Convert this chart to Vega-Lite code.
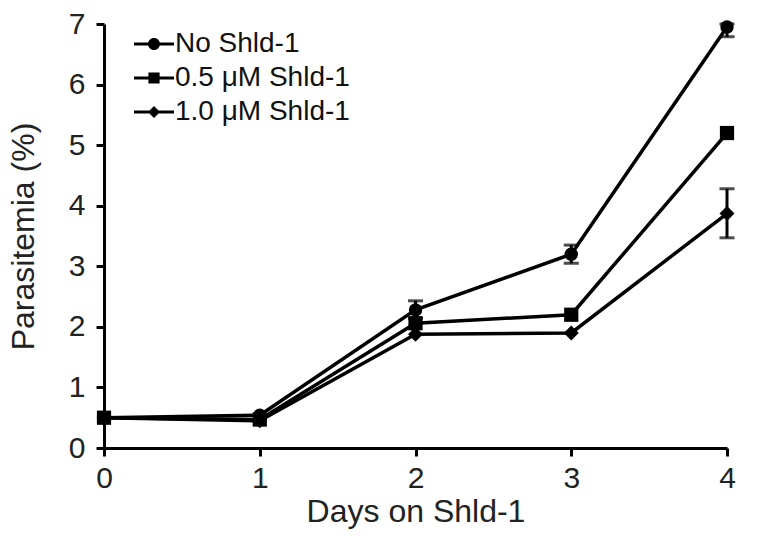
{
  "$schema": "https://vega.github.io/schema/vega-lite/v6.json",
  "width": 623,
  "height": 424,
  "autosize": "none",
  "padding": {"left": 104, "top": 24, "right": 33, "bottom": 88},
  "background": "white",
  "config": {
    "view": {"stroke": null},
    "font": "Liberation Sans",
    "axis": {
      "domainColor": "black", "domainWidth": 3, "tickColor": "black", "tickWidth": 3, "tickSize": 8,
      "labelColor": "#222", "labelFontSize": 30, "titleColor": "#222",
      "titleFontWeight": "normal", "grid": false, "labelFont": "Liberation Sans", "titleFont": "Liberation Sans",
      "labelFlush": false, "labelOverlap": false
    }
  },
  "datasets": {
    "pts": [
      {"series": "No Shld-1", "day": 0, "value": 0.5},
      {"series": "No Shld-1", "day": 1, "value": 0.54},
      {"series": "No Shld-1", "day": 2, "value": 2.28},
      {"series": "No Shld-1", "day": 3, "value": 3.2},
      {"series": "No Shld-1", "day": 4, "value": 6.95},
      {"series": "0.5 μM Shld-1", "day": 0, "value": 0.5},
      {"series": "0.5 μM Shld-1", "day": 1, "value": 0.47},
      {"series": "0.5 μM Shld-1", "day": 2, "value": 2.06},
      {"series": "0.5 μM Shld-1", "day": 3, "value": 2.2},
      {"series": "0.5 μM Shld-1", "day": 4, "value": 5.2},
      {"series": "1.0 μM Shld-1", "day": 0, "value": 0.5},
      {"series": "1.0 μM Shld-1", "day": 1, "value": 0.45},
      {"series": "1.0 μM Shld-1", "day": 2, "value": 1.88},
      {"series": "1.0 μM Shld-1", "day": 3, "value": 1.9},
      {"series": "1.0 μM Shld-1", "day": 4, "value": 3.87}
    ],
    "err": [
      {"series": "No Shld-1", "day": 2, "lo": 2.14, "hi": 2.43},
      {"series": "No Shld-1", "day": 3, "lo": 3.05, "hi": 3.35},
      {"series": "No Shld-1", "day": 4, "lo": 6.79, "hi": 7.0},
      {"series": "1.0 μM Shld-1", "day": 4, "lo": 3.47, "hi": 4.28}
    ]
  },
  "layer": [
    {
      "data": {"name": "pts"},
      "mark": {"type": "line", "color": "black", "strokeWidth": 3.5},
      "encoding": {
        "x": {"field": "day", "type": "quantitative", "scale": {"domain": [0, 4], "nice": false},
              "axis": {"values": [0, 1, 2, 3, 4], "format": "d", "title": "Days on Shld-1", "titleFontSize": 32, "labelPadding": 7, "titlePadding": 3}},
        "y": {"field": "value", "type": "quantitative", "scale": {"domain": [0, 7], "nice": false},
              "axis": {"values": [0, 1, 2, 3, 4, 5, 6, 7], "format": "d", "title": "Parasitemia (%)", "titleFontSize": 32, "labelPadding": 11, "titlePadding": 28}},
        "detail": {"field": "series"}
      }
    },
    {
      "data": {"name": "err"},
      "mark": {"type": "errorbar", "color": "black", "thickness": 3, "ticks": {"size": 15, "thickness": 3, "color": "black"}},
      "encoding": {
        "x": {"field": "day", "type": "quantitative"},
        "y": {"field": "lo", "type": "quantitative", "title": "Parasitemia (%)"},
        "y2": {"field": "hi"}
      }
    },
    {
      "data": {"name": "pts"},
      "mark": {"type": "point", "filled": true, "color": "black", "opacity": 1},
      "encoding": {
        "x": {"field": "day", "type": "quantitative"},
        "y": {"field": "value", "type": "quantitative"},
        "shape": {"field": "series", "type": "nominal", "legend": null,
                  "scale": {"domain": ["No Shld-1", "0.5 μM Shld-1", "1.0 μM Shld-1"], "range": ["circle", "square", "diamond"]}},
        "size": {"field": "series", "type": "nominal", "legend": null,
                 "scale": {"domain": ["No Shld-1", "0.5 μM Shld-1", "1.0 μM Shld-1"], "range": [180, 225, 230]}}
      }
    },
    {
      "data": {"name": "pts"},
      "transform": [{"filter": "datum.day < 0"}],
      "mark": {"type": "point", "filled": true, "color": "black", "opacity": 1, "size": 1600, "strokeWidth": 0},
      "encoding": {
        "x": {"field": "day", "type": "quantitative"},
        "y": {"field": "value", "type": "quantitative"},
        "shape": {"field": "series", "type": "nominal",
                  "scale": {"domain": ["No Shld-1", "0.5 μM Shld-1", "1.0 μM Shld-1"],
                            "range": [
                              "M-1,-0.075H1V0.075H-1Z M0.3,0A0.3,0.3,0,1,1,-0.3,0A0.3,0.3,0,1,1,0.3,0Z",
                              "M-1,-0.075H1V0.075H-1Z M-0.28,-0.28H0.28V0.28H-0.28Z",
                              "M-1,-0.075H1V0.075H-1Z M0,-0.3L0.3,0L0,0.3L-0.3,0Z"
                            ]},
                  "legend": {"title": null, "orient": "none", "legendX": 30, "legendY": 0,
                             "labelFontSize": 28, "labelColor": "#111", "labelFont": "Liberation Sans", "labelLimit": 0,
                             "symbolSize": 1600, "symbolFillColor": "black", "symbolStrokeWidth": 0, "symbolOpacity": 1,
                             "rowPadding": -9, "labelOffset": 1}}
      }
    }
  ],
  "resolve": {"scale": {"shape": "independent"}}
}
